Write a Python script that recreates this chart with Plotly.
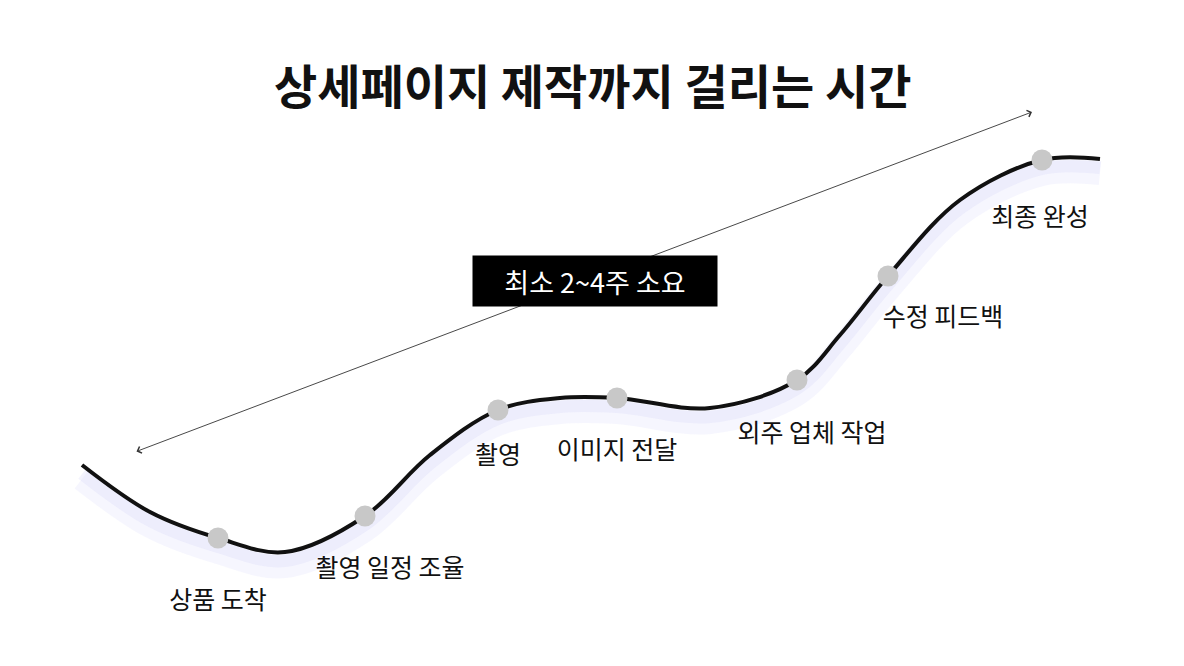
import plotly.graph_objects as go

title = "상세페이지 제작까지 걸리는 시간"
curve_x = [82, 150, 218, 285, 365, 430, 498, 560, 617, 710, 797, 840, 888, 960, 1042, 1100]
curve_y = [465, 512, 538, 552, 516, 455, 410, 398, 398, 408, 380, 335, 276, 200, 160, 159]
step_names = ["상품 도착", "촬영 일정 조율", "촬영", "이미지 전달", "외주 업체 작업", "수정 피드백", "최종 완성"]
step_x = [218, 365, 498, 617, 797, 888, 1042]
step_y = [538, 516, 410, 398, 380, 276, 160]
label_x = [218, 390, 498, 617, 812, 943, 1040]
label_y = [603, 571, 458, 453, 436, 320, 220]
arrow_start = (135, 452)
arrow_end = (1032, 112)
badge_text = "최소 2~4주 소요"
badge_center = (595, 281)

font = "Noto Sans CJK KR"
fig = go.Figure()
fig.add_trace(go.Scatter(x=curve_x, y=[v + 14 for v in curve_y], mode="lines",
                         line=dict(shape="spline", width=24, color="rgba(220,220,250,0.25)"),
                         hoverinfo="skip"))
fig.add_trace(go.Scatter(x=curve_x, y=[v + 9 for v in curve_y], mode="lines",
                         line=dict(shape="spline", width=12, color="rgba(215,215,250,0.3)"),
                         hoverinfo="skip"))
fig.add_trace(go.Scatter(x=curve_x, y=curve_y, mode="lines",
                         line=dict(shape="spline", width=4, color="#111"), hoverinfo="skip"))
fig.add_trace(go.Scatter(x=step_x, y=step_y, mode="markers",
                         marker=dict(size=21, color="#c8c8c8"), hoverinfo="skip"))
fig.add_trace(go.Scatter(x=label_x, y=label_y, mode="text", text=step_names,
                         textfont=dict(family=font, size=25, color="#111"), hoverinfo="skip"))

fig.add_annotation(x=arrow_end[0], y=arrow_end[1], ax=arrow_start[0], ay=arrow_start[1],
                   xref="x", yref="y", axref="x", ayref="y", text="", showarrow=True,
                   arrowhead=4, startarrowhead=4, arrowside="end+start", arrowwidth=0.9,
                   arrowsize=1.5, startarrowsize=1.5, arrowcolor="#333")
fig.add_annotation(x=badge_center[0], y=badge_center[1], xref="x", yref="y", text=badge_text,
                   showarrow=False, bgcolor="#000", font=dict(family=font, size=27, color="#fff"),
                   borderpad=10, width=224, height=30)
fig.add_annotation(x=592, y=83, xref="x", yref="y", text="<b>" + title + "</b>", showarrow=False,
                   font=dict(family=font, size=47, color="#111"))

fig.update_xaxes(range=[8, 1192], visible=False)
fig.update_yaxes(range=[674, 8], visible=False)
fig.update_layout(width=1184, height=666, margin=dict(l=0, r=0, t=0, b=0),
                  plot_bgcolor="white", paper_bgcolor="white", showlegend=False)
fig.write_html("out.html")
